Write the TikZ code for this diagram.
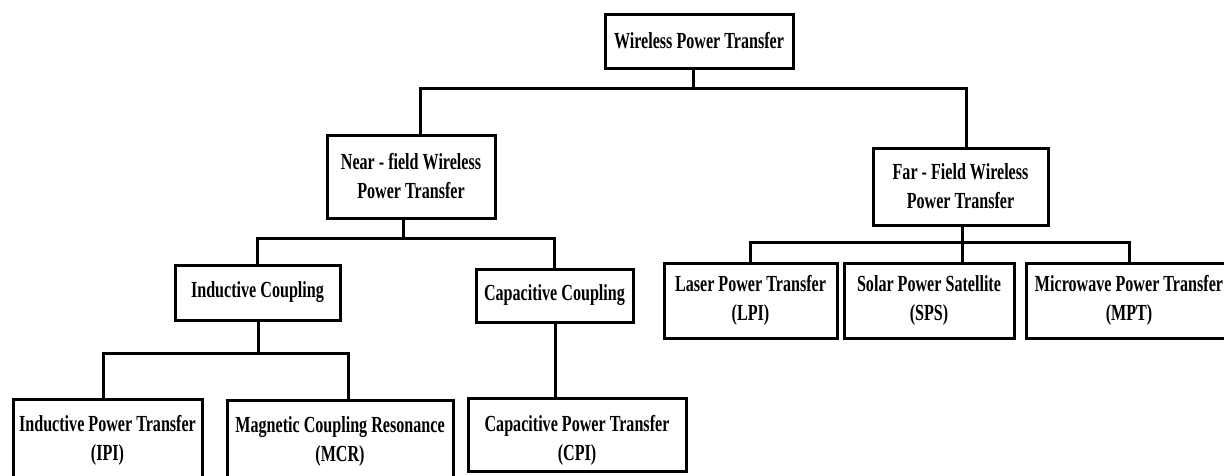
\documentclass[tikz,border=0pt]{standalone}
\usepackage{fontspec}
\setmainfont{Liberation Serif}[FakeStretch=0.7]
\begin{document}
\begin{tikzpicture}[x=1pt,y=-1pt,
  box/.style={draw, line width=3pt, inner sep=0pt, align=center,
    font=\fontsize{23}{29}\selectfont\bfseries},
  conn/.style={line width=3pt}]
\useasboundingbox (0,0) rectangle (1224,475);
% boxes
\node[box, minimum width=188, minimum height=54] (wpt) at (699,41) {Wireless Power Transfer};
\node[box, minimum width=168, minimum height=83] (near) at (411,176.5) {Near - field Wireless\\ Power Transfer};
\node[box, minimum width=175, minimum height=77] (far) at (960.5,186.5) {Far - Field Wireless\\ Power Transfer};
\node[box, minimum width=165, minimum height=55] (ic) at (257.5,292.5) {Inductive Coupling};
\node[box, minimum width=157, minimum height=53] (cc) at (554.5,295.5) {Capacitive Coupling};
\node[box, minimum width=173, minimum height=75] (lpt) at (750.5,300.5) {Laser Power Transfer\\ (LPI)};
\node[box, minimum width=170, minimum height=75] (sps) at (929,300.5) {Solar Power Satellite\\ (SPS)};
\node[box, minimum width=206, minimum height=75] (mpt) at (1129,300.5) {Microwave Power Transfer\\ (MPT)};
\node[box, minimum width=189, minimum height=83] (ipt) at (107.5,440.5) {Inductive Power Transfer\\ (IPI)};
\node[box, minimum width=226, minimum height=82] (mcr) at (340,441) {Magnetic Coupling Resonance\\ (MCR)};
\node[box, minimum width=218, minimum height=73] (cpt) at (577,434.5) {\raisebox{-12pt}[0pt][0pt]{\begin{tabular}{@{}c@{}}Capacitive Power Transfer\\ (CPI)\end{tabular}}};
% junction coordinates
\coordinate (xw) at (693,88);
\coordinate (xn) at (420,88);
\coordinate (xf) at (966,88);
\coordinate (xnb) at (403,238);
\coordinate (xfb) at (962,242);
\coordinate (xib) at (258,353);
\coordinate (xipt) at (103,353);
\coordinate (xmcr) at (348,353);
\coordinate (xcc) at (555,300);
% connectors
\draw[conn] (wpt.south -| xw) -- (xw);
\draw[conn] (near.north -| xn) -- (xn) -- (xf) -- (far.north -| xf);
\draw[conn] (near.south -| xnb) -- (xnb);
\draw[conn] (ic.north) -- (ic.north |- xnb) -| (cc.north);
\draw[conn] (far.south -| xfb) -- (sps.north -| xfb);
\draw[conn] (lpt.north) -- (lpt.north |- xfb) -| (mpt.north);
\draw[conn] (ic.south -| xib) -- (xib);
\draw[conn] (ipt.north -| xipt) -- (xipt) -- (xmcr) -- (mcr.north -| xmcr);
\draw[conn] (cc.south -| xcc) -- (cpt.north -| xcc);
\end{tikzpicture}
\end{document}
